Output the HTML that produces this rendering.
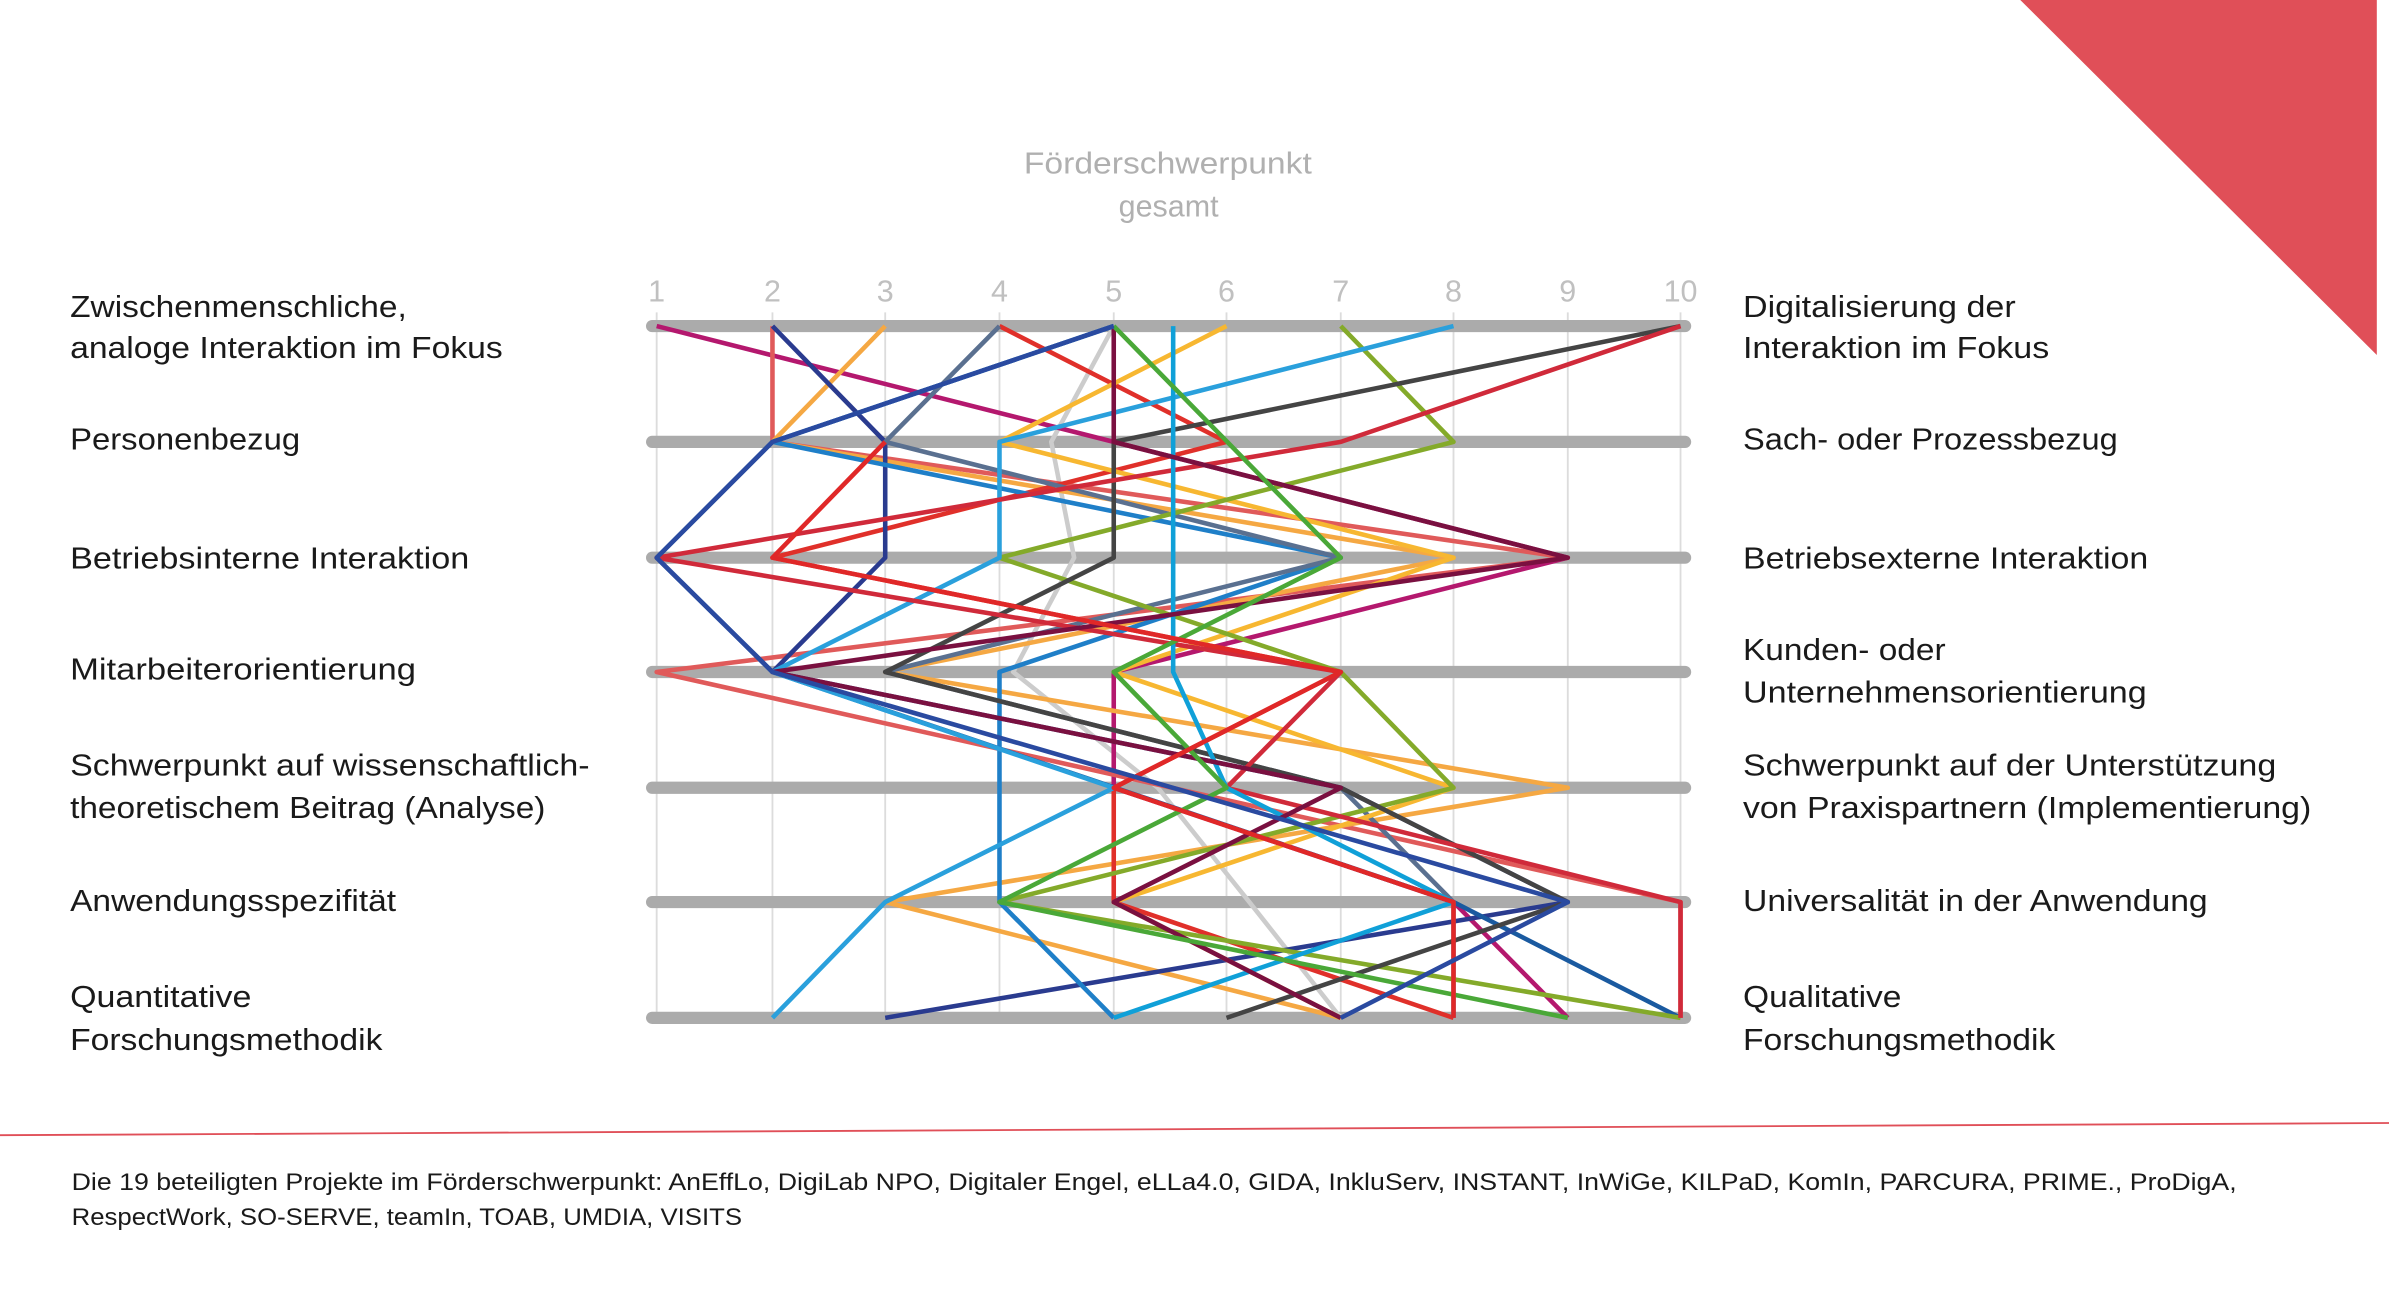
<!DOCTYPE html>
<html><head><meta charset="utf-8"><style>
html,body{margin:0;padding:0;background:#fff;}
svg{display:block;}
text{font-family:"Liberation Sans",sans-serif;}
</style></head><body>
<svg width="2389" height="1315" viewBox="0 0 1568 863" preserveAspectRatio="none" xmlns="http://www.w3.org/2000/svg">
<polygon points="1326,0 1560,0 1560,233" fill="#e04f58"/>
<line x1="0" y1="745" x2="1568" y2="737" stroke="#e04f58" stroke-width="1.2"/>
<text x="672" y="114" font-size="20" fill="#b0b0b0" textLength="189" lengthAdjust="spacingAndGlyphs">Förderschwerpunkt</text>
<text x="767" y="142" font-size="20" fill="#b0b0b0" text-anchor="middle">gesamt</text>
<g font-size="20" fill="#c0c0c0" text-anchor="middle">
<text x="431" y="198">1</text><text x="507" y="198">2</text><text x="581" y="198">3</text><text x="656" y="198">4</text><text x="731" y="198">5</text><text x="805" y="198">6</text><text x="880" y="198">7</text><text x="954" y="198">8</text><text x="1029" y="198">9</text><text x="1103" y="198">10</text>
</g>
<g stroke="#dcdcdc" stroke-width="1.2">
<line x1="431" y1="205" x2="431" y2="668"/><line x1="507" y1="205" x2="507" y2="668"/><line x1="581" y1="205" x2="581" y2="668"/><line x1="656" y1="205" x2="656" y2="668"/><line x1="731" y1="205" x2="731" y2="668"/><line x1="805" y1="205" x2="805" y2="668"/><line x1="880" y1="205" x2="880" y2="668"/><line x1="954" y1="205" x2="954" y2="668"/><line x1="1029" y1="205" x2="1029" y2="668"/><line x1="1103" y1="205" x2="1103" y2="668"/>
</g>
<g stroke="#ababab" stroke-width="8" stroke-linecap="round">
<line x1="428" y1="214" x2="1106" y2="214"/><line x1="428" y1="290" x2="1106" y2="290"/><line x1="428" y1="366" x2="1106" y2="366"/><line x1="428" y1="441" x2="1106" y2="441"/><line x1="428" y1="517" x2="1106" y2="517"/><line x1="428" y1="592" x2="1106" y2="592"/><line x1="428" y1="668" x2="1106" y2="668"/>
</g>
<g fill="none" stroke-width="3" stroke-linejoin="round">
<polyline stroke="#cccccc" points="731,214 690,290 705,366 665,441 760,517 820,592 880,668"/>
<polyline stroke="#b4186e" points="431,214 731,290 1029,366 731,441 731,517 954,592 1029,668"/>
<polyline stroke="#e05a5a" points="507,214 507,290 1029,366 431,441 1103,592 1103,668"/>
<polyline stroke="#f5a843" points="581,214 507,290 954,366 581,441 1029,517 581,592 880,668"/>
<polyline stroke="#e0302a" points="656,214 805,290 507,366 880,441 731,517 731,592 954,668"/>
<polyline stroke="#2a3b8f" points="507,214 581,290 581,366 507,441 880,517 1029,592 581,668"/>
<polyline stroke="#1a5aa0" points="731,214 507,290 431,366 507,441 954,592 1103,668"/>
<polyline stroke="#1f7fc8" points="731,214 507,290 880,366 656,441 656,517 656,592 731,668"/>
<polyline stroke="#5a7090" points="656,214 581,290 880,366 581,441 880,517 954,592 954,668"/>
<polyline stroke="#f7b731" points="805,214 656,290 954,366 731,441 954,517 731,592 880,668"/>
<polyline stroke="#84aa2a" points="880,214 954,290 656,366 880,441 954,517 656,592 1103,668"/>
<polyline stroke="#2aa0dc" points="954,214 656,290 656,366 507,441 731,517 581,592 507,668"/>
<polyline stroke="#444444" points="1103,214 731,290 731,366 581,441 880,517 1029,592 805,668"/>
<polyline stroke="#d02a3a" points="1103,214 880,290 431,366 880,441 805,517 1103,592 1103,668"/>
<polyline stroke="#10a0d8" points="770,214 770,290 770,366 770,441 805,517 954,592 731,668"/>
<polyline stroke="#7a1040" points="731,214 731,290 1029,366 507,441 880,517 731,592 880,668"/>
<polyline stroke="#4aa838" points="731,214 880,366 731,441 805,517 656,592 1029,668"/>
<polyline stroke="#e02828" points="581,290 507,366 880,441 731,517 954,592 954,668"/>
<polyline stroke="#2a4aa0" points="731,214 507,290 431,366 507,441 1029,592 880,668"/>
</g>
<g font-size="20" fill="#1a1a1a">
<text x="46" y="208" textLength="221" lengthAdjust="spacingAndGlyphs">Zwischenmenschliche,</text>
<text x="46" y="235" textLength="284" lengthAdjust="spacingAndGlyphs">analoge Interaktion im Fokus</text>
<text x="46" y="295" textLength="151" lengthAdjust="spacingAndGlyphs">Personenbezug</text>
<text x="46" y="373" textLength="262" lengthAdjust="spacingAndGlyphs">Betriebsinterne Interaktion</text>
<text x="46" y="446" textLength="227" lengthAdjust="spacingAndGlyphs">Mitarbeiterorientierung</text>
<text x="46" y="509" textLength="341" lengthAdjust="spacingAndGlyphs">Schwerpunkt auf wissenschaftlich-</text>
<text x="46" y="537" textLength="312" lengthAdjust="spacingAndGlyphs">theoretischem Beitrag (Analyse)</text>
<text x="46" y="598" textLength="214" lengthAdjust="spacingAndGlyphs">Anwendungsspezifität</text>
<text x="46" y="661" textLength="119" lengthAdjust="spacingAndGlyphs">Quantitative</text>
<text x="46" y="689" textLength="205" lengthAdjust="spacingAndGlyphs">Forschungsmethodik</text>
<text x="1144" y="208" textLength="179" lengthAdjust="spacingAndGlyphs">Digitalisierung der</text>
<text x="1144" y="235" textLength="201" lengthAdjust="spacingAndGlyphs">Interaktion im Fokus</text>
<text x="1144" y="295" textLength="246" lengthAdjust="spacingAndGlyphs">Sach- oder Prozessbezug</text>
<text x="1144" y="373" textLength="266" lengthAdjust="spacingAndGlyphs">Betriebsexterne Interaktion</text>
<text x="1144" y="433" textLength="133" lengthAdjust="spacingAndGlyphs">Kunden- oder</text>
<text x="1144" y="461" textLength="265" lengthAdjust="spacingAndGlyphs">Unternehmensorientierung</text>
<text x="1144" y="509" textLength="350" lengthAdjust="spacingAndGlyphs">Schwerpunkt auf der Unterstützung</text>
<text x="1144" y="537" textLength="373" lengthAdjust="spacingAndGlyphs">von Praxispartnern (Implementierung)</text>
<text x="1144" y="598" textLength="305" lengthAdjust="spacingAndGlyphs">Universalität in der Anwendung</text>
<text x="1144" y="661" textLength="104" lengthAdjust="spacingAndGlyphs">Qualitative</text>
<text x="1144" y="689" textLength="205" lengthAdjust="spacingAndGlyphs">Forschungsmethodik</text>
</g>
<g font-size="15.5" fill="#1a1a1a">
<text x="47" y="781" textLength="1421" lengthAdjust="spacingAndGlyphs">Die 19 beteiligten Projekte im Förderschwerpunkt: AnEffLo, DigiLab NPO, Digitaler Engel, eLLa4.0, GIDA, InkluServ, INSTANT, InWiGe, KILPaD, KomIn, PARCURA, PRIME., ProDigA,</text>
<text x="47" y="804" textLength="440" lengthAdjust="spacingAndGlyphs">RespectWork, SO-SERVE, teamIn, TOAB, UMDIA, VISITS</text>
</g>
</svg>
</body></html>
